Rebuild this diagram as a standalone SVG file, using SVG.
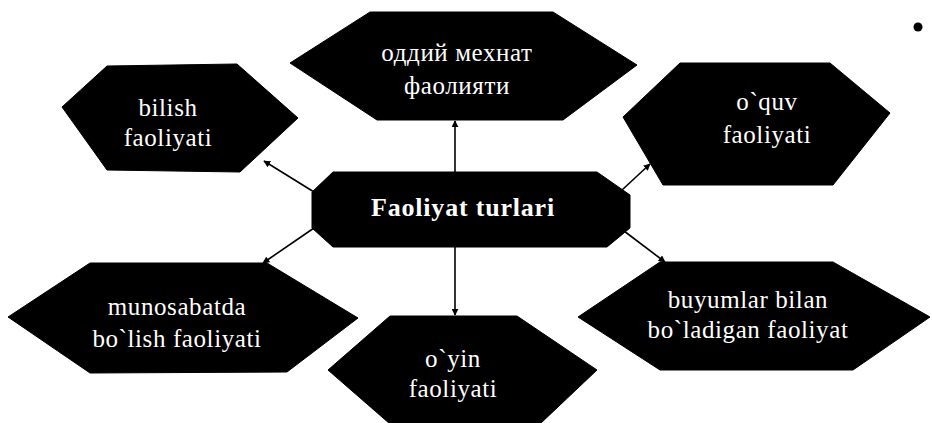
<svg xmlns="http://www.w3.org/2000/svg" width="932" height="423" viewBox="0 0 932 423">
<style>
.n{fill:#000;stroke:#000;stroke-width:1}
.t{font-family:"Liberation Serif","Times New Roman",serif;font-size:25px;fill:#fff;text-anchor:middle;letter-spacing:0.6px}
.b{font-weight:bold;font-size:26px;letter-spacing:0.8px}
.c{stroke:#000;stroke-width:1.6;fill:none;marker-end:url(#ah)}
</style>
<defs>
<marker id="ah" viewBox="0 0 10 10" refX="9" refY="5" markerWidth="7" markerHeight="7" orient="auto" markerUnits="userSpaceOnUse">
<path d="M0,0 L10,5 L0,10 z" fill="#000"/>
</marker>
</defs>
<rect width="932" height="423" fill="#fff"/>
<g id="connectors">
<line class="c" x1="455" y1="172" x2="455" y2="121"/>
<line class="c" x1="455" y1="247" x2="455" y2="315"/>
<line class="c" x1="314" y1="192" x2="264" y2="161"/>
<line class="c" x1="622" y1="190" x2="650" y2="164"/>
<line class="c" x1="314" y1="228" x2="263" y2="263"/>
<line class="c" x1="624" y1="231" x2="665" y2="262"/>
</g>
<g id="node-top">
<polygon class="n" points="290,63 370,12 553,12 637,65 563,120 377,120"/>
<text class="t" x="457" y="61">оддий мехнат</text>
<text class="t" x="457" y="94">фаолияти</text>
</g>
<g id="node-bilish">
<polygon class="n" points="62,107 107,66 237,64 298,118 240,172 107,170"/>
<text class="t" x="168" y="116">bilish</text>
<text class="t" x="168" y="146">faoliyati</text>
</g>
<g id="node-oquv">
<polygon class="n" points="623,117 680,63 830,63 890,113 833,185 663,185"/>
<text class="t" x="767" y="110">o`quv</text>
<text class="t" x="767" y="143">faoliyati</text>
</g>
<g id="node-center">
<polygon class="n" points="333,172 597,172 630,195 630,228 607,247 333,247 312,228 312,192"/>
<text class="t b" x="463" y="216">Faoliyat turlari</text>
</g>
<g id="node-munosabatda">
<polygon class="n" points="8,317 90,263 267,263 358,318 287,372 90,373"/>
<text class="t" x="177" y="315">munosabatda</text>
<text class="t" x="177" y="347">bo`lish faoliyati</text>
</g>
<g id="node-oyin">
<polygon class="n" points="328,370 390,316 517,316 597,370 540,424 390,424"/>
<text class="t" x="453" y="367">o`yin</text>
<text class="t" x="453" y="397">faoliyati</text>
</g>
<g id="node-buyumlar">
<polygon class="n" points="578,317 660,262 833,262 930,317 853,370 660,370"/>
<text class="t" x="748" y="308">buyumlar bilan</text>
<text class="t" x="748" y="338">bo`ladigan faoliyat</text>
</g>
<circle cx="918" cy="27" r="4.5" fill="#000"/>
</svg>
